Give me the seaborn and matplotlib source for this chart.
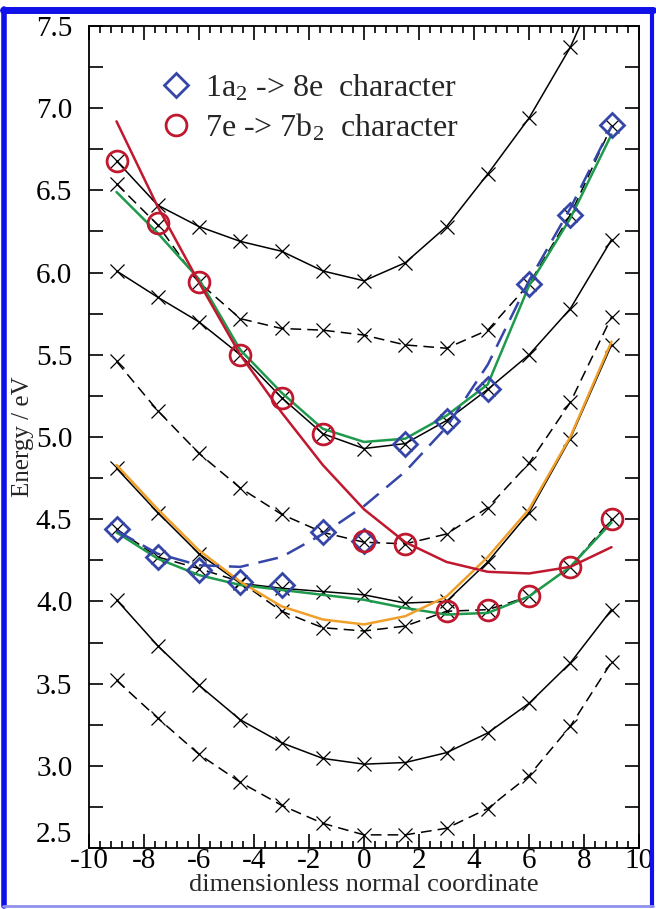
import matplotlib
matplotlib.use('Agg')
import matplotlib.pyplot as plt
from matplotlib.ticker import MultipleLocator, AutoMinorLocator, FormatStrFormatter
from matplotlib.lines import Line2D
import seaborn as sns

# normal coordinate grid (same for every curve)
coord = [-9, -7.5, -6, -4.5, -3, -1.5, 0, 1.5, 3, 4.5, 6, 7.5, 9]

# black curves: solid / dashed (eV)
solid1 = [6.68, 6.41, 6.28, 6.19, 6.13, 6.01, 5.95, 6.06, 6.28, 6.60, 6.94, 7.37, 7.93]
dash1 = [6.54, 6.29, 5.94, 5.72, 5.66, 5.65, 5.62, 5.56, 5.54, 5.65, 5.93, 6.35, 6.89]
solid2 = [6.01, 5.85, 5.70, 5.50, 5.24, 5.02, 4.93, 4.96, 5.10, 5.29, 5.50, 5.78, 6.20]
dash2 = [5.46, 5.16, 4.90, 4.69, 4.53, 4.42, 4.36, 4.35, 4.41, 4.57, 4.84, 5.21, 5.73]
solid3 = [4.81, 4.54, 4.29, 4.11, 4.08, 4.06, 4.04, 3.99, 4.00, 4.24, 4.54, 4.99, 5.56]
dash3 = [4.44, 4.27, 4.20, 4.12, 3.94, 3.84, 3.82, 3.85, 3.94, 3.95, 4.03, 4.21, 4.50]
solid4 = [4.01, 3.73, 3.49, 3.28, 3.14, 3.045, 3.01, 3.02, 3.08, 3.20, 3.38, 3.625, 3.95]
dash4 = [3.52, 3.29, 3.07, 2.90, 2.76, 2.65, 2.58, 2.58, 2.62, 2.74, 2.94, 3.24, 3.63]

# coloured curves
green_up = [6.49, 6.24, 5.96, 5.53, 5.27, 5.05, 4.97, 4.99, 5.13, 5.32, 5.92, 6.33, 6.84]
green_lo = [4.42, 4.26, 4.16, 4.10, 4.07, 4.04, 4.01, 3.96, 3.92, 3.93, 4.03, 4.21, 4.48]
orange = [4.83, 4.56, 4.31, 4.12, 3.97, 3.89, 3.86, 3.91, 4.03, 4.27, 4.56, 5.00, 5.58]
red_fit = [6.92, 6.40, 5.94, 5.50, 5.15, 4.83, 4.56, 4.36, 4.24, 4.18, 4.17, 4.21, 4.33]
blue_fit = [4.43, 4.29, 4.22, 4.21, 4.27, 4.41, 4.58, 4.79, 5.06, 5.44, 5.95, 6.39, 6.89]

# character markers
diamonds = [4.44, 4.27, 4.19, 4.12, 4.10, 4.42, 4.37, 4.96, 5.10, 5.29, 5.93, 6.35, 6.90]
circles = [6.68, 6.30, 5.94, 5.50, 5.24, 5.02, 4.37, 4.35, 3.94, 3.95, 4.03, 4.21, 4.50]

labels = ['1a$_2$ -> 8e  character', '7e -> 7b$_2$  character']

sns.set_style('ticks')
plt.rcParams['font.family'] = ['Liberation Serif', 'DejaVu Serif']
plt.rcParams['mathtext.default'] = 'regular'
plt.rcParams['axes.unicode_minus'] = False

BLUE = '#3546a8'
RED = '#c0182e'
GREEN = '#1e9a4c'
ORANGE = '#f0a02a'

fig = plt.figure(figsize=(6.56, 9.09), dpi=100)
ax = fig.add_axes([0.1357, 0.0671, 0.8384, 0.9043])


def curve(y, color='black', ls='-', lw=1.1, marker=None, z=2):
    sns.lineplot(x=coord, y=y, ax=ax, color=color, linestyle=ls, linewidth=lw,
                 marker=marker, markersize=10, markeredgewidth=0.9,
                 markeredgecolor=color, zorder=z, legend=False, errorbar=None)


dashed = (0, (7, 4))
for s in [solid1, solid2, solid3, solid4]:
    curve(s, marker='x')
for d in [dash1, dash2, dash3, dash4]:
    curve(d, ls=dashed, marker='x')

curve(green_up, GREEN, lw=1.8, z=3)
curve(green_lo, GREEN, lw=1.8, z=3)
curve(orange, ORANGE, lw=1.8, z=3)
curve(red_fit, RED, lw=1.8, z=3)
curve(blue_fit, BLUE, ls=(0, (8, 4)), lw=1.8, z=3)

sns.lineplot(x=coord, y=diamonds, ax=ax, linestyle='none', marker='D', markersize=12,
             markerfacecolor='none', markeredgecolor=BLUE, markeredgewidth=2,
             zorder=4, legend=False, errorbar=None)
sns.lineplot(x=coord, y=circles, ax=ax, linestyle='none', marker='o', markersize=15,
             markerfacecolor='none', markeredgecolor=RED, markeredgewidth=2,
             zorder=5, legend=False, errorbar=None)

handles = [Line2D([], [], ls='none', marker='D', ms=12, mfc='none', mec=BLUE, mew=2),
           Line2D([], [], ls='none', marker='o', ms=15, mfc='none', mec=RED, mew=2)]
ax.legend(handles, labels, loc='upper left', bbox_to_anchor=(0.129, 0.943), frameon=False,
          fontsize=23, handlelength=1.0, handletextpad=0.4, labelspacing=0.27,
          borderaxespad=0, borderpad=0)

ax.set_xlim(-10, 10)
ax.set_ylim(2.5, 7.5)
ax.xaxis.set_major_locator(MultipleLocator(2))
ax.xaxis.set_minor_locator(AutoMinorLocator(5))
ax.yaxis.set_major_locator(MultipleLocator(0.5))
ax.yaxis.set_minor_locator(MultipleLocator(0.25))
ax.yaxis.set_major_formatter(FormatStrFormatter('%.1f'))
ax.tick_params(which='both', direction='in', top=True, right=True, labelsize=21,
               width=1.2, colors='black')
ax.tick_params(axis='x', which='major', length=10, pad=0)
ax.tick_params(axis='x', which='minor', length=5)
ax.tick_params(axis='y', which='both', length=10, pad=12)
for sp in ax.spines.values():
    sp.set_linewidth(1.3)
    sp.set_color('black')

ax.set_xlabel('dimensionless normal coordinate', fontsize=19, labelpad=0)
ax.set_ylabel('Energy / eV', fontsize=18, labelpad=1)

# lift the lowest y label so it clears "-10"
fig.canvas.draw()
for lab in ax.get_yticklabels():
    if lab.get_text() == '2.5':
        lab.set_va('bottom')

# blue frame around the screenshot
fig.add_artist(Line2D([0.005, 0.995], [0.989, 0.989], color='#1010e8', lw=5))
fig.add_artist(Line2D([0.0065, 0.0065], [0.003, 0.99], color='#1010e8', lw=4))
fig.add_artist(Line2D([0.994, 0.994], [0.003, 0.99], color='#1010e8', lw=3))
fig.add_artist(Line2D([0.005, 0.995], [0.003, 0.003], color='#9090f0', lw=2))

fig.savefig('out.png', dpi=100)
